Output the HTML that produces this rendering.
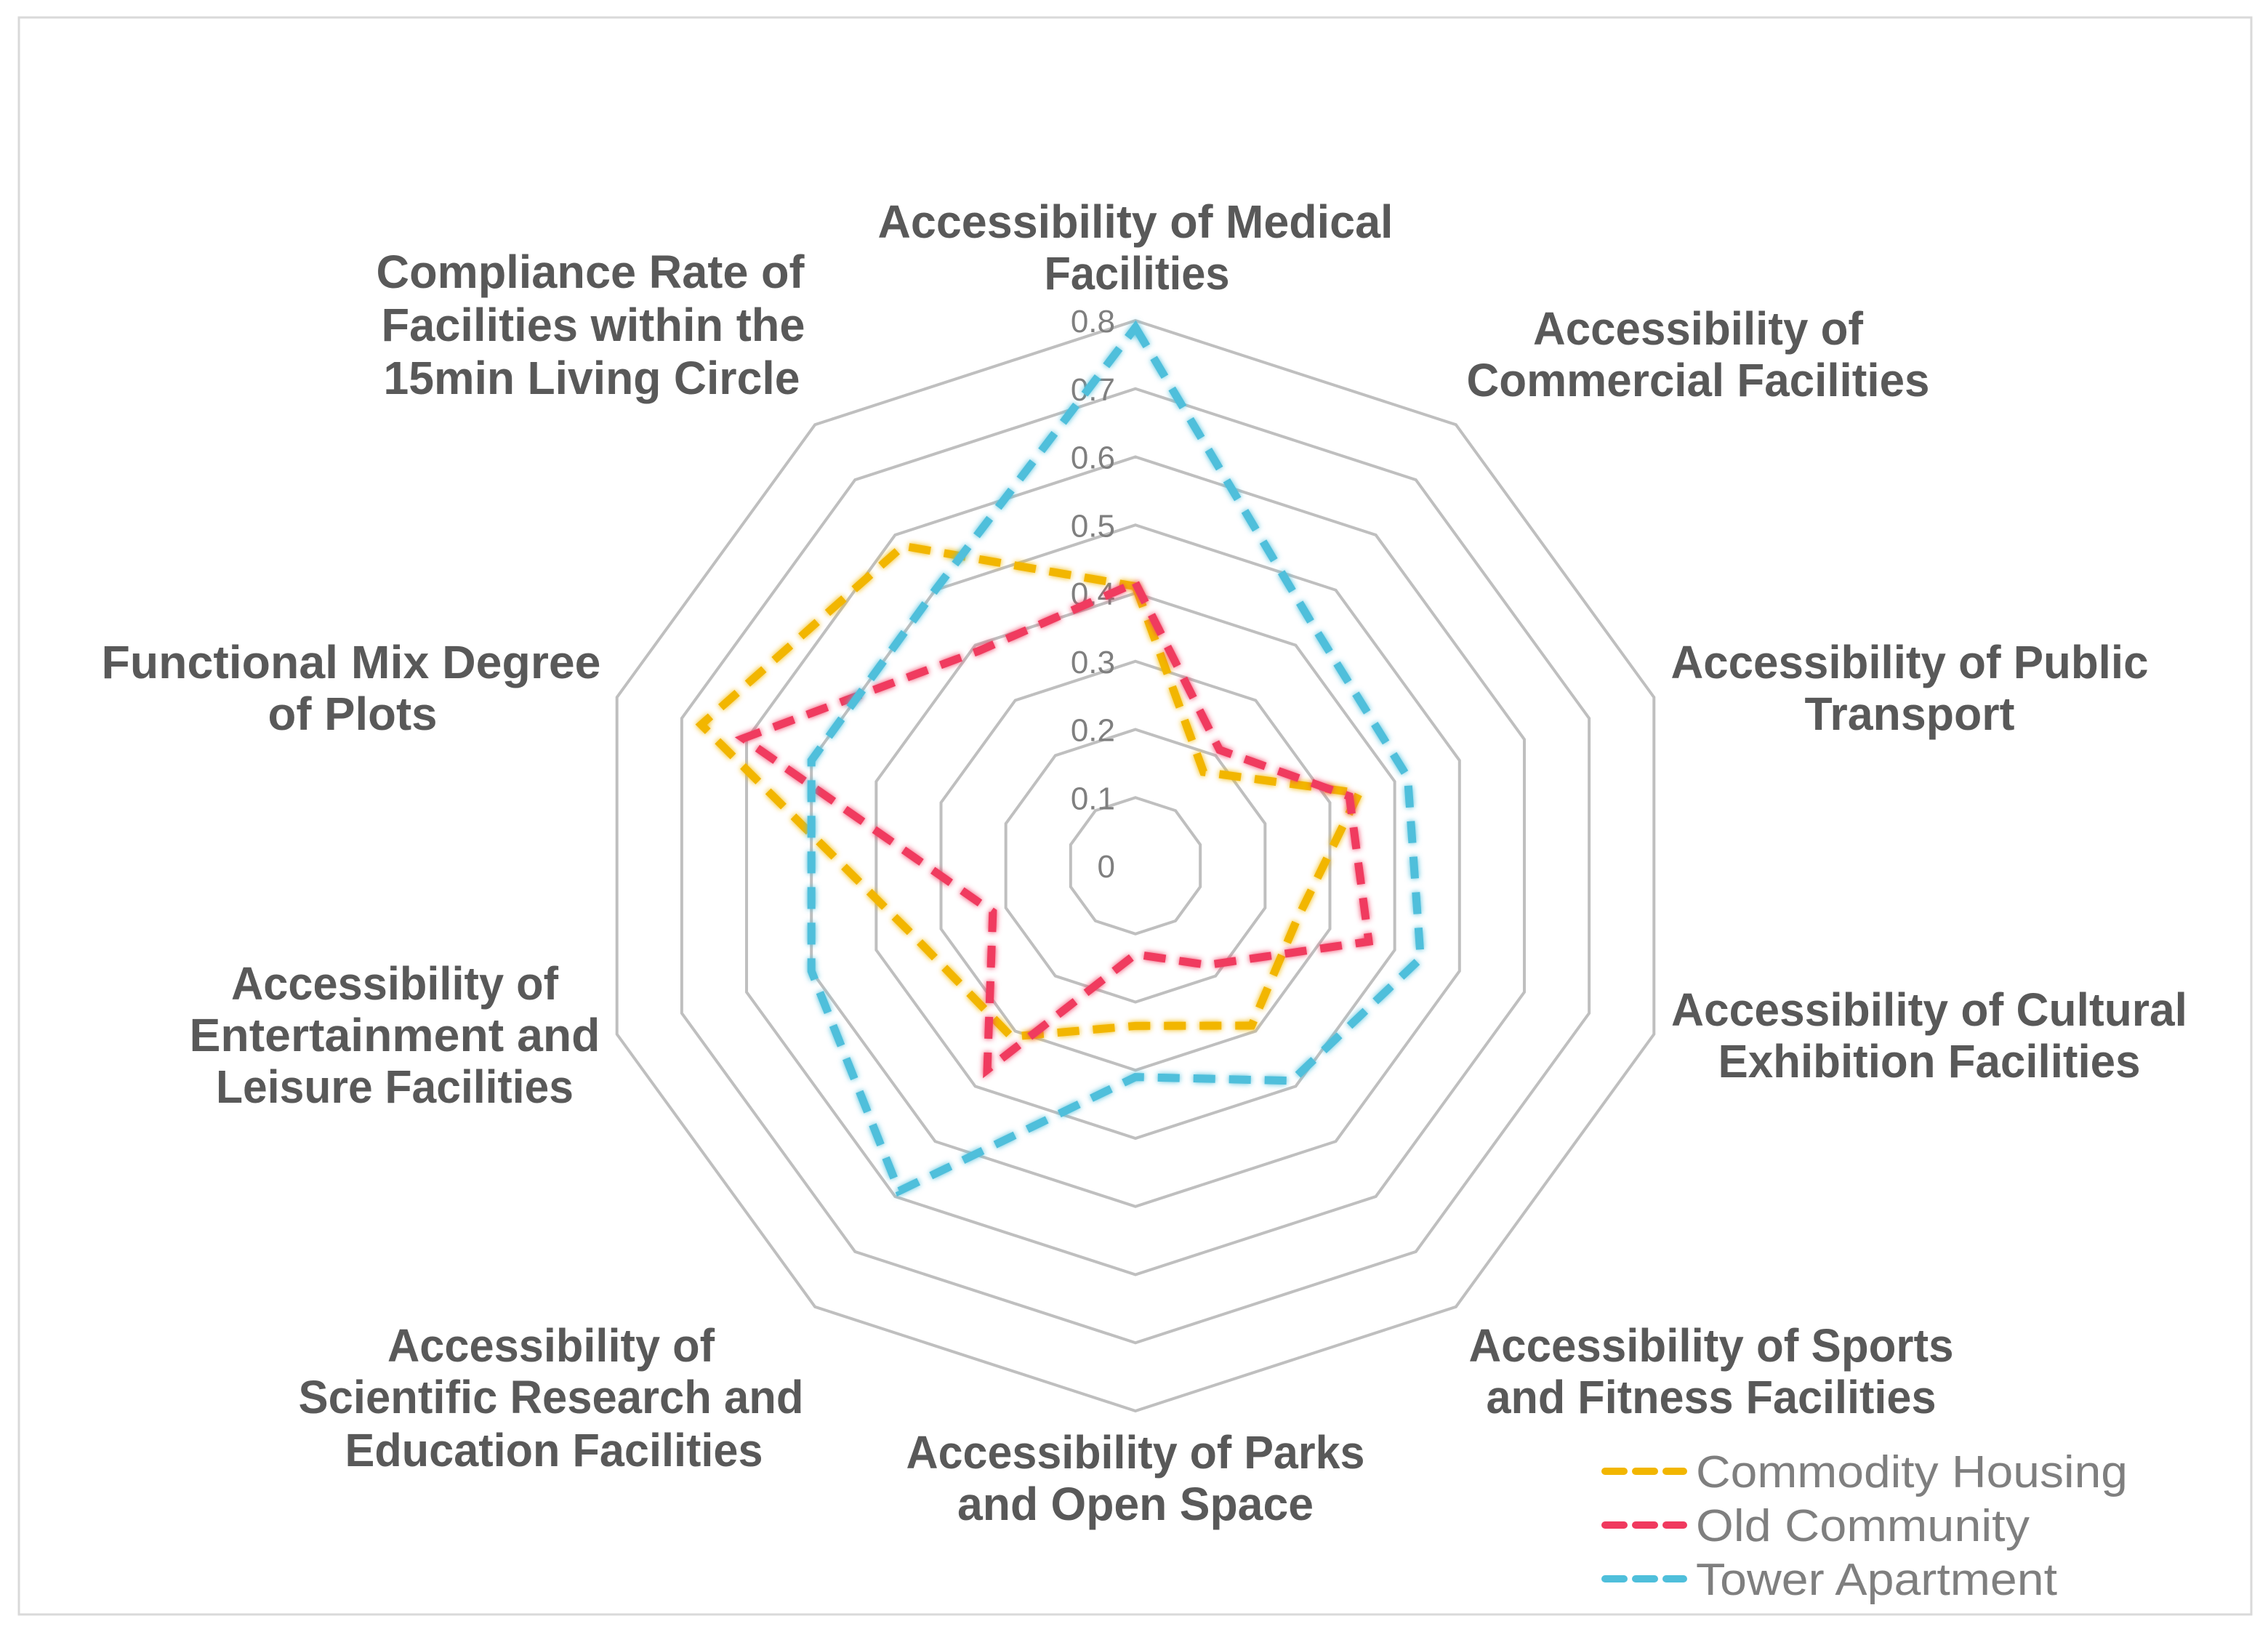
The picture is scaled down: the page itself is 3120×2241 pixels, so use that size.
<!DOCTYPE html>
<html><head><meta charset="utf-8"><style>
html,body{margin:0;padding:0;background:#fff;}
svg{display:block;}
.lbl{font-family:"Liberation Sans",sans-serif;font-weight:bold;font-size:64px;fill:#595959;text-anchor:middle;}
.tick{font-family:"Liberation Sans",sans-serif;font-size:44px;fill:#7f7f7f;text-anchor:end;}
.leg{font-family:"Liberation Sans",sans-serif;font-size:62px;fill:#7f7f7f;}
</style></head><body>
<svg id="chart" width="3120" height="2241" viewBox="0 0 3120 2241" xmlns="http://www.w3.org/2000/svg">
<defs><filter id="glow" x="-10%" y="-10%" width="120%" height="120%"><feGaussianBlur stdDeviation="4" result="b"/><feMerge><feMergeNode in="b"/><feMergeNode in="SourceGraphic"/></feMerge></filter></defs>
<rect x="26" y="24" width="3071" height="2197" fill="#fff" stroke="#d9d9d9" stroke-width="3"/>
<g id="grid"></g>
<g id="ticks"></g>
<g id="series"></g>
<g>
<text class="lbl" x="1562" y="327" textLength="709" lengthAdjust="spacingAndGlyphs">Accessibility of Medical</text>
<text class="lbl" x="1564" y="398" textLength="255" lengthAdjust="spacingAndGlyphs">Facilities</text>
<text class="lbl" x="2336" y="474" textLength="454" lengthAdjust="spacingAndGlyphs">Accessibility of</text>
<text class="lbl" x="2336" y="545" textLength="637" lengthAdjust="spacingAndGlyphs">Commercial Facilities</text>
<text class="lbl" x="2627" y="933" textLength="657" lengthAdjust="spacingAndGlyphs">Accessibility of Public</text>
<text class="lbl" x="2627" y="1004" textLength="289" lengthAdjust="spacingAndGlyphs">Transport</text>
<text class="lbl" x="2654" y="1411" textLength="710" lengthAdjust="spacingAndGlyphs">Accessibility of Cultural</text>
<text class="lbl" x="2654" y="1482" textLength="581" lengthAdjust="spacingAndGlyphs">Exhibition Facilities</text>
<text class="lbl" x="2354" y="1873" textLength="667" lengthAdjust="spacingAndGlyphs">Accessibility of Sports</text>
<text class="lbl" x="2354" y="1944" textLength="619" lengthAdjust="spacingAndGlyphs">and Fitness Facilities</text>
<text class="lbl" x="1562" y="2020" textLength="631" lengthAdjust="spacingAndGlyphs">Accessibility of Parks</text>
<text class="lbl" x="1562" y="2091" textLength="490" lengthAdjust="spacingAndGlyphs">and Open Space</text>
<text class="lbl" x="758" y="1873" textLength="450" lengthAdjust="spacingAndGlyphs">Accessibility of</text>
<text class="lbl" x="758" y="1944" textLength="695" lengthAdjust="spacingAndGlyphs">Scientific Research and</text>
<text class="lbl" x="762" y="2017" textLength="575" lengthAdjust="spacingAndGlyphs">Education Facilities</text>
<text class="lbl" x="543" y="1375" textLength="450" lengthAdjust="spacingAndGlyphs">Accessibility of</text>
<text class="lbl" x="543" y="1446" textLength="565" lengthAdjust="spacingAndGlyphs">Entertainment and</text>
<text class="lbl" x="543" y="1517" textLength="492" lengthAdjust="spacingAndGlyphs">Leisure Facilities</text>
<text class="lbl" x="483" y="933" textLength="687" lengthAdjust="spacingAndGlyphs">Functional Mix Degree</text>
<text class="lbl" x="485" y="1004" textLength="233" lengthAdjust="spacingAndGlyphs">of Plots</text>
<text class="lbl" x="812" y="396" textLength="589" lengthAdjust="spacingAndGlyphs">Compliance Rate of</text>
<text class="lbl" x="816" y="469" textLength="583" lengthAdjust="spacingAndGlyphs">Facilities within the</text>
<text class="lbl" x="814" y="542" textLength="573" lengthAdjust="spacingAndGlyphs">15min Living Circle</text>
</g>
<g>
<line x1="2208" y1="2024" x2="2316" y2="2024" stroke="#F2B600" stroke-width="10" stroke-dasharray="26,16" stroke-linecap="round"/>
<text class="leg" x="2333" y="2046" textLength="594" lengthAdjust="spacingAndGlyphs">Commodity Housing</text>
<line x1="2208" y1="2098" x2="2316" y2="2098" stroke="#F03A5F" stroke-width="10" stroke-dasharray="26,16" stroke-linecap="round"/>
<text class="leg" x="2333" y="2120" textLength="459" lengthAdjust="spacingAndGlyphs">Old Community</text>
<line x1="2208" y1="2172" x2="2316" y2="2172" stroke="#4FBFDB" stroke-width="10" stroke-dasharray="26,16" stroke-linecap="round"/>
<text class="leg" x="2333" y="2194" textLength="497" lengthAdjust="spacingAndGlyphs">Tower Apartment</text>
</g>
</svg>
<script>
const categories = ["Medical","Commercial","Public Transport","Cultural Exhibition","Sports and Fitness","Parks and Open Space","Scientific Research and Education","Entertainment and Leisure","Functional Mix","Compliance Rate"];
const commodityValues = [0.41, 0.17, 0.345, 0.25, 0.29, 0.235, 0.31, 0.34, 0.67, 0.58];
const oldValues = [0.415, 0.21, 0.33, 0.36, 0.18, 0.13, 0.37, 0.22, 0.605, 0.39];
const towerValues = [0.79, 0.44, 0.42, 0.44, 0.39, 0.31, 0.59, 0.50, 0.50, 0.50];
const tickLabels = ["0","0.1","0.2","0.3","0.4","0.5","0.6","0.7","0.8"];
const tickValues = [0,0.1,0.2,0.3,0.4,0.5,0.6,0.7,0.8];

const NS = "http://www.w3.org/2000/svg";
const CX = 1562, CY = 1191, R = 750, VMAX = 0.8;
function rScale(v){ return v / VMAX * R; }
function pt(i, v){ const a = (-90 + 360 / categories.length * i) * Math.PI / 180; const r = rScale(v); return [CX + r * Math.cos(a), CY + r * Math.sin(a)]; }

const grid = document.getElementById('grid');
tickValues.forEach((t, k) => {
  if (t === 0) return;
  const p = document.createElementNS(NS, 'polygon');
  p.setAttribute('points', categories.map((c, i) => pt(i, t).join(',')).join(' '));
  p.setAttribute('fill', 'none'); p.setAttribute('stroke', '#bfbfbf'); p.setAttribute('stroke-width', '4');
  
  
  grid.appendChild(p);
});
const ticks = document.getElementById('ticks');
tickValues.forEach((t, k) => {
  const tx = document.createElementNS(NS, 'text');
  tx.setAttribute('class', 'tick');
  tx.setAttribute('x', CX - 28); tx.setAttribute('y', CY - rScale(t) + 16);
  tx.textContent = tickLabels[k];
  
  
  ticks.appendChild(tx);
});
const series = document.getElementById('series');
[[commodityValues, '#F2B600', 'series-commodity-housing'], [oldValues, '#F03A5F', 'series-old-community'], [towerValues, '#4FBFDB', 'series-tower-apartment']].forEach(s => {
  const p = document.createElementNS(NS, 'polygon');
  p.setAttribute('points', s[0].map((v, i) => pt(i, v).join(',')).join(' '));
  p.setAttribute('fill', 'none'); p.setAttribute('stroke', s[1]); p.setAttribute('stroke-width', '11');
  p.setAttribute('stroke-dasharray', '30,19'); p.setAttribute('stroke-linejoin', 'miter');
  p.setAttribute('filter', 'url(#glow)');
  
  
  series.appendChild(p);
});
</script>
</body></html>
